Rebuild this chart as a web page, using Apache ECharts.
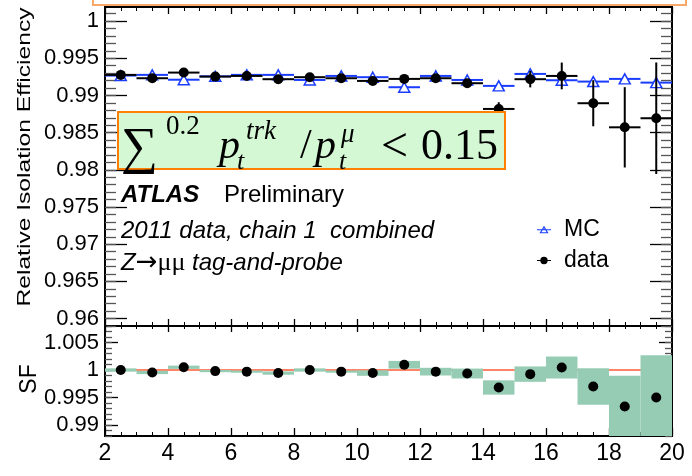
<!DOCTYPE html>
<html>
<head>
<meta charset="utf-8">
<script src="https://cdn.jsdelivr.net/npm/echarts@6/dist/echarts.min.js"></script>
<style>
  html, body { margin: 0; background: #fff; }
  #chart { width: 692px; height: 476px; }
</style>
</head>
<body>
<div id="chart"></div>
<script>
// bin centres (pt bins of width 1)
const bins = [2.5, 3.5, 4.5, 5.5, 6.5, 7.5, 8.5, 9.5, 10.5, 11.5, 12.5, 13.5, 14.5, 15.5, 16.5, 17.5, 18.5, 19.5];
const BIN_HALF = 0.5;

const mcEff = [0.99268, 0.99277, 0.99212, 0.99258, 0.99277, 0.99277, 0.99209, 0.99263, 0.99246, 0.99111, 0.99263, 0.99209, 0.99129, 0.99290, 0.99205, 0.99187, 0.99223, 0.99173];
const mcErr = [0.0002, 0.0002, 0.0002, 0.0002, 0.0002, 0.0002, 0.0002, 0.0002, 0.0002, 0.0002, 0.0002, 0.0002, 0.0002, 0.0002, 0.0002, 0.0002, 0.0002, 0.0002];

const dataEff = [0.99277, 0.99232, 0.99308, 0.99254, 0.99263, 0.99219, 0.99246, 0.99232, 0.99196, 0.99223, 0.99232, 0.99165, 0.98819, 0.99219, 0.99263, 0.98896, 0.98572, 0.98694];
const dataErr = [0.0003, 0.0003, 0.0003, 0.0003, 0.0003, 0.0003, 0.0003, 0.0003, 0.0003, 0.0003, 0.0003, 0.0003, 0.0009, 0.0011, 0.0018, 0.0031, 0.0054, 0.0075];

const sf = [1.0000, 0.99955, 1.0005, 0.9998, 0.9997, 0.99944, 1.0000, 0.9997, 0.99944, 1.00095, 0.9997, 0.99936, 0.99682, 0.99925, 1.00045, 0.9970, 0.99336, 0.9950];
const sfErr = [0.0003, 0.0003, 0.0003, 0.0002, 0.0002, 0.0003, 0.0003, 0.0002, 0.0005, 0.0007, 0.0007, 0.0009, 0.0013, 0.0014, 0.0020, 0.0033, 0.0056, 0.0077];
const sfRef = 1;

const effTickLabels = ['0.96', '0.965', '0.97', '0.975', '0.98', '0.985', '0.99', '0.995', '1'];
const sfTickLabels = ['0.99', '0.995', '1', '1.005'];
const xTickLabels = ['2', '4', '6', '8', '10', '12', '14', '16', '18', '20'];

const sans = '"Liberation Sans", Arial, sans-serif';
const serif = '"Liberation Serif", "DejaVu Serif", serif';

function steps(a, b, step) {
  const out = [];
  for (let v = a; v <= b + 1e-9; v += step) out.push(+v.toFixed(4));
  return out;
}

function yAxis(gridIndex, position, min, max, values, len, color, withLabels) {
  return {
    type: 'value', gridIndex, position, min, max,
    axisLine: { show: false, onZero: false },
    splitLine: { show: false },
    axisTick: { show: true, inside: true, length: len, customValues: values, lineStyle: { color, width: 1.3 } },
    axisLabel: withLabels ? {
      show: true, customValues: values, margin: 6,
      formatter: v => String(+(+v).toFixed(3)),
      fontFamily: sans, fontSize: 22, color: '#000'
    } : { show: false }
  };
}

function xAxis(gridIndex, position, len, withLabels) {
  return {
    type: 'value', gridIndex, position, min: 2, max: 20, interval: 2,
    axisLine: { show: false, onZero: false },
    splitLine: { show: false },
    axisTick: { show: true, inside: true, length: len, lineStyle: { color: '#000', width: 1.3 } },
    minorTick: { show: true, splitNumber: 4, length: Math.round(len / 2), lineStyle: { color: '#000', width: 1 } },
    axisLabel: withLabels ? {
      show: true, margin: 6, fontFamily: sans, fontSize: 23, color: '#000',
      formatter: v => xTickLabels[xTickLabels.indexOf(String(v))] || ''
    } : { show: false }
  };
}

function barsItem(color, width) {
  return function (params, api) {
    const x = api.value(0), y = api.value(1), e = api.value(2);
    const l = api.coord([x - BIN_HALF, y]), r = api.coord([x + BIN_HALF, y]);
    const t = api.coord([x, y + e]), b = api.coord([x, y - e]);
    const style = { stroke: color, lineWidth: width };
    return {
      type: 'group',
      children: [
        { type: 'line', shape: { x1: l[0], y1: l[1], x2: r[0], y2: r[1] }, style },
        { type: 'line', shape: { x1: t[0], y1: t[1], x2: b[0], y2: b[1] }, style }
      ]
    };
  };
}

function boxItem(params, api) {
  const x = api.value(0), y = api.value(1), e = api.value(2);
  const p1 = api.coord([x - BIN_HALF, y + e]), p2 = api.coord([x + BIN_HALF, y - e]);
  const cs = params.coordSys;
  const shape = echarts.graphic.clipRectByRect(
    { x: p1[0], y: p1[1], width: p2[0] - p1[0], height: p2[1] - p1[1] },
    { x: cs.x, y: cs.y, width: cs.width, height: cs.height }
  );
  return shape && { type: 'rect', shape, style: { fill: '#96ccb4' } };
}

function txt(text, x, y, font, extra) {
  return Object.assign({
    type: 'text', x, y, z: 100,
    style: { text, font, fill: '#000', textAlign: 'left', align: 'left', textVerticalAlign: 'middle', verticalAlign: 'middle' }
  }, extra || {});
}

const effMajor = effTickLabels.map(Number);
const effMinor = steps(0.959, 1.001, 0.001);
const sfMajor = sfTickLabels.map(Number);
const sfMinor = steps(0.988, 1.008, 0.001);

const chart = echarts.init(document.getElementById('chart'));

chart.setOption({
  animation: false,
  backgroundColor: '#fff',
  grid: [
    { left: 105, top: 7, width: 567, height: 319, show: true, borderColor: '#000', borderWidth: 2, backgroundColor: 'transparent' },
    { left: 105, top: 326, width: 567, height: 110, show: true, borderColor: '#000', borderWidth: 2, backgroundColor: 'transparent' }
  ],
  xAxis: [
    xAxis(0, 'bottom', 7, false),
    xAxis(0, 'top', 7, false),
    xAxis(1, 'bottom', 8, true),
    xAxis(1, 'top', 6, false)
  ],
  yAxis: [
    yAxis(0, 'left', 0.959, 1.0019, effMajor, 22, '#000', true),
    yAxis(0, 'left', 0.959, 1.0019, effMinor, 11, '#555', false),
    yAxis(0, 'right', 0.959, 1.0019, effMajor, 22, '#000', false),
    yAxis(0, 'right', 0.959, 1.0019, effMinor, 11, '#555', false),
    yAxis(1, 'left', 0.988, 1.008, sfMajor, 13, '#000', true),
    yAxis(1, 'left', 0.988, 1.008, sfMinor, 7, '#555', false),
    yAxis(1, 'right', 0.988, 1.008, sfMajor, 13, '#000', false),
    yAxis(1, 'right', 0.988, 1.008, sfMinor, 7, '#555', false)
  ],
  legend: {
    orient: 'vertical', left: 537, top: 218, padding: 0,
    itemWidth: 14, itemHeight: 9, itemGap: 8,
    textStyle: { fontFamily: sans, fontSize: 23, color: '#000', lineHeight: 23, padding: [0, 0, 0, 8] },
    data: [
      { name: 'MC', icon: 'path://M0 6.2H20V7.6H0Z M10 1L16.5 12H3.5Z M10 4.2L6.2 10.6H13.8Z', itemStyle: { color: '#1a3cff', borderWidth: 0 } },
      { name: 'data', icon: 'path://M0 6H20V7.4H0Z M10 1.4A5.3 5.3 0 1 1 9.99 1.4Z', itemStyle: { color: '#000', borderWidth: 0 } }
    ]
  },
  series: [
    {
      name: 'MC bars', type: 'custom', xAxisIndex: 0, yAxisIndex: 0, z: 2, silent: true,
      renderItem: barsItem('#1a3cff', 2),
      data: bins.map((x, i) => [x, mcEff[i], mcErr[i]])
    },
    {
      name: 'MC', type: 'scatter', xAxisIndex: 0, yAxisIndex: 0, z: 3,
      symbol: 'triangle', symbolSize: [11, 10],
      itemStyle: { color: '#fff', borderColor: '#1a3cff', borderWidth: 1.5, opacity: 1 },
      data: bins.map((x, i) => [x, mcEff[i]])
    },
    {
      name: 'data bars', type: 'custom', xAxisIndex: 0, yAxisIndex: 0, z: 4, silent: true,
      renderItem: barsItem('#000', 2),
      data: bins.map((x, i) => [x, dataEff[i], dataErr[i]])
    },
    {
      name: 'data', type: 'scatter', xAxisIndex: 0, yAxisIndex: 0, z: 5,
      symbol: 'circle', symbolSize: 10,
      itemStyle: { color: '#000', opacity: 1 },
      data: bins.map((x, i) => [x, dataEff[i]])
    },
    {
      name: 'SF = 1', type: 'line', xAxisIndex: 2, yAxisIndex: 4, z: 1, silent: true,
      symbol: 'none', lineStyle: { color: '#ff8468', width: 2 },
      data: [[2, sfRef], [20, sfRef]]
    },
    {
      name: 'SF syst', type: 'custom', xAxisIndex: 2, yAxisIndex: 4, z: 2, silent: true,
      renderItem: boxItem,
      data: bins.map((x, i) => [x, sf[i], sfErr[i]])
    },
    {
      name: 'SF', type: 'scatter', xAxisIndex: 2, yAxisIndex: 4, z: 3,
      symbol: 'circle', symbolSize: 10,
      itemStyle: { color: '#000', opacity: 1 },
      data: bins.map((x, i) => [x, sf[i]])
    }
  ],
  graphic: [
    // cut-off title frame at the very top
    { type: 'rect', z: 100, shape: { x: 93, y: -8, width: 593, height: 13 }, style: { fill: '#fff', stroke: '#f8a868', lineWidth: 2 } },
    // axis titles
    txt('Relative Isolation Efficiency', 25, 157, '18.5px ' + sans, {
      rotation: Math.PI / 2, scaleX: 1.33,
      style: { text: 'Relative Isolation Efficiency', font: '18.5px ' + sans, fill: '#000', textAlign: 'center', align: 'center', textVerticalAlign: 'middle', verticalAlign: 'middle' }
    }),
    txt('SF', 30, 379, '23px ' + sans, {
      rotation: Math.PI / 2,
      style: { text: 'SF', font: '23px ' + sans, fill: '#000', textAlign: 'center', align: 'center', textVerticalAlign: 'middle', verticalAlign: 'middle' }
    }),
    // cut label box
    { type: 'rect', z: 99, shape: { x: 118, y: 112, width: 387, height: 57 }, style: { fill: '#d4f8d4', stroke: '#ff8000', lineWidth: 2 } },
    txt('\u2211', 121, 149, '52px ' + serif),
    txt('0.2', 166, 127, '27px ' + serif),
    txt('p', 219, 147, 'italic 42px ' + serif),
    txt('t', 237, 162, 'italic 26px ' + serif),
    txt('trk', 246, 132, 'italic 27px ' + serif),
    txt('/', 300, 147, '42px ' + serif),
    txt('p', 315, 147, 'italic 42px ' + serif),
    txt('\u03bc', 341, 135, 'italic 27px ' + serif),
    txt('t', 339, 162, 'italic 26px ' + serif),
    txt('<', 381, 148, '48px ' + serif),
    txt('0.15', 421, 147, '44px ' + serif),
    // annotations
    txt('ATLAS', 121, 195, 'italic bold 24px ' + sans),
    txt('Preliminary', 224, 195, '24px ' + sans),
    txt('2011 data, chain 1  combined', 121, 231, 'italic 24px ' + sans),
    {
      type: 'text', x: 121, y: 263, z: 100,
      style: {
        text: '{i|Z}{a|\u2192}{m|\u03bc\u03bc}{i| tag-and-probe}',
        textVerticalAlign: 'middle', verticalAlign: 'middle',
        rich: {
          i: { fontFamily: sans, fontStyle: 'italic', fontSize: 24, fill: '#000', color: '#000' },
          a: { fontFamily: '"DejaVu Sans", sans-serif', fontSize: 26, fill: '#000', color: '#000' },
          m: { fontFamily: serif, fontSize: 26, fill: '#000', color: '#000' }
        }
      }
    }
  ]
});
</script>
</body>
</html>
